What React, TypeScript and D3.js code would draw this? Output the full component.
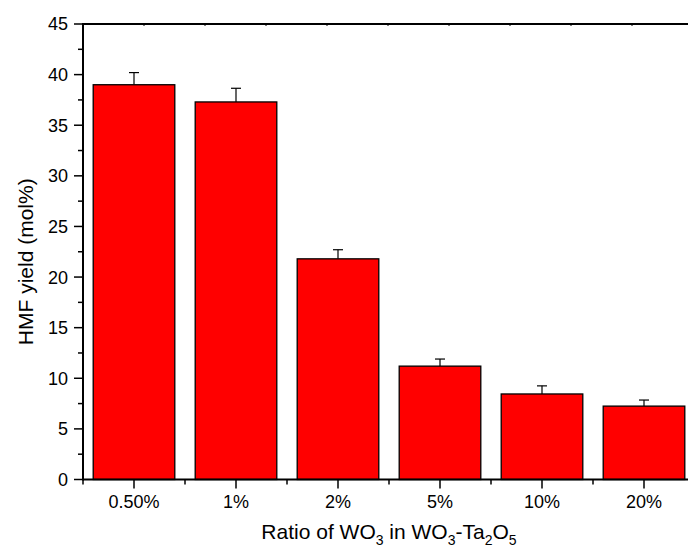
import React from "react";
import * as d3 from "d3";

const categories = ["0.50%", "1%", "2%", "5%", "10%", "20%"];
const yieldValues = [39.0, 37.3, 21.8, 11.2, 8.45, 7.25];
const errorValues = [1.2, 1.35, 0.9, 0.7, 0.8, 0.6];
const yTicks = [0, 5, 10, 15, 20, 25, 30, 35, 40, 45];
const yMinorTicks = [2.5, 7.5, 12.5, 17.5, 22.5, 27.5, 32.5, 37.5, 42.5];
const topTicks = [1, 2, 3, 4, 5, 6, 7, 8, 9];

const W = 688;
const H = 552;
const left = 83;
const right = 695;
const top = 24;
const bottom = 479.5;
const font = "Arial, 'Liberation Sans', sans-serif";

export default function App() {
  const x = d3.scaleBand<string>().domain(categories).range([left, right]).paddingInner(0.2).paddingOuter(0.1);
  const xPoint = (c: string) => (x(c) as number) + x.bandwidth() / 2;
  const step = x.step();
  const y = d3.scaleLinear().domain([0, 45]).range([bottom, top]);
  const xTop = d3.scaleLinear().domain([0, 10]).range([left, left + 610]);

  return (
    <svg width={W} height={H} style={{ position: "absolute", left: 0, top: 0, background: "#fff" }} fontFamily={font}>
      {/* bars */}
      {categories.map((c, i) => (
        <g key={c}>
          <line x1={xPoint(c)} x2={xPoint(c)} y1={y(yieldValues[i])} y2={y(yieldValues[i] + errorValues[i])} stroke="#000" strokeWidth={1.2} />
          <line x1={xPoint(c) - 5} x2={xPoint(c) + 5} y1={y(yieldValues[i] + errorValues[i])} y2={y(yieldValues[i] + errorValues[i])} stroke="#000" strokeWidth={1.2} />
          <rect x={x(c)} y={y(yieldValues[i])} width={x.bandwidth()} height={bottom - y(yieldValues[i])} fill="#ff0000" stroke="#000" strokeWidth={1.3} />
        </g>
      ))}
      {/* axes lines */}
      <line x1={left} x2={W + 10} y1={top} y2={top} stroke="#000" strokeWidth={2} />
      <line x1={left} x2={W + 10} y1={bottom} y2={bottom} stroke="#000" strokeWidth={2} />
      <line x1={left} x2={left} y1={top - 1} y2={bottom + 1} stroke="#000" strokeWidth={2} />
      {/* top ticks */}
      {topTicks.map((t) => (
        <line key={t} x1={xTop(t)} x2={xTop(t)} y1={top - 1} y2={top + 2} stroke="#000" strokeWidth={1} />
      ))}
      {/* y ticks */}
      {yTicks.map((t) => (
        <g key={t}>
          <line x1={left - 9} x2={left} y1={y(t)} y2={y(t)} stroke="#000" strokeWidth={1.5} />
          <text x={68} y={y(t)} dy="0.36em" textAnchor="end" fontSize={18} fill="#000">{t}</text>
        </g>
      ))}
      {yMinorTicks.map((t) => (
        <line key={t} x1={left - 5} x2={left} y1={y(t)} y2={y(t)} stroke="#000" strokeWidth={1.5} />
      ))}
      {/* x ticks */}
      {categories.map((c) => (
        <g key={c}>
          <line x1={xPoint(c)} x2={xPoint(c)} y1={bottom} y2={bottom + 9} stroke="#000" strokeWidth={1.5} />
          <line x1={xPoint(c) - step / 2} x2={xPoint(c) - step / 2} y1={bottom} y2={bottom + 5} stroke="#000" strokeWidth={1.5} />
          <text x={xPoint(c)} y={508} textAnchor="middle" fontSize={18} fill="#000">{c}</text>
        </g>
      ))}
      {/* axis titles */}
      <text transform={`translate(33, ${(top + bottom) / 2 + 10}) rotate(-90)`} textAnchor="middle" fontSize={21} fill="#000">
        HMF yield (mol%)
      </text>
      <text x={389} y={539} textAnchor="middle" fontSize={21} fill="#000">
        Ratio of WO<tspan fontSize={14} dy={6}>3</tspan>
        <tspan dy={-6}> in WO</tspan>
        <tspan fontSize={14} dy={6}>3</tspan>
        <tspan dy={-6}>-Ta</tspan>
        <tspan fontSize={14} dy={6}>2</tspan>
        <tspan dy={-6}>O</tspan>
        <tspan fontSize={14} dy={6}>5</tspan>
      </text>
    </svg>
  );
}
